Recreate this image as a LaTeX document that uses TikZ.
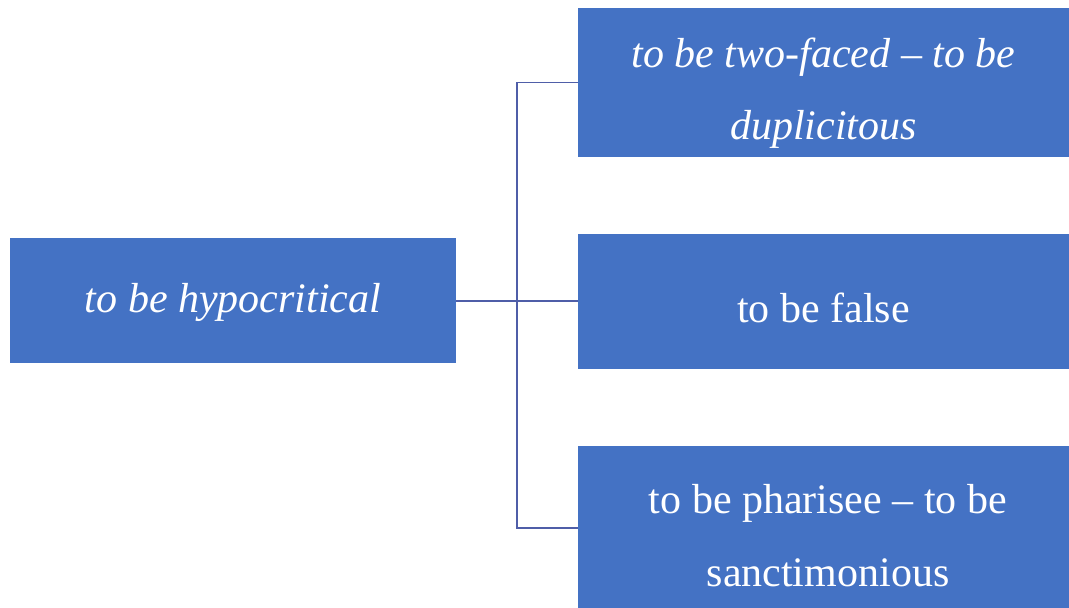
\documentclass[tikz,border=0pt]{standalone}
\usepackage{fontspec}
\setmainfont{Liberation Serif}
\definecolor{boxblue}{HTML}{4472C4}
\definecolor{linkblue}{HTML}{4F5EA8}
\begin{document}
\begin{tikzpicture}[x=1pt,y=1pt,
  box/.style={fill=boxblue,draw=none,inner sep=0pt,minimum width=#1},
  label/.style={text=white,inner sep=0pt,anchor=base,font=\fontsize{42}{50}\selectfont},
  link/.style={draw=linkblue,line width=1.4pt}]
\useasboundingbox (0,0) rectangle (1069,608);
\clip (0,0) rectangle (1069,608);
% boxes
\node[box=446pt,minimum height=125pt] (left) at (233,307.5) {};
\node[box=491pt,minimum height=149pt] (top) at (823.5,525.5) {};
\node[box=491pt,minimum height=135pt] (mid) at (823.5,306.5) {};
\node[box=491pt,minimum height=164pt] (bot) at (823.5,80) {};
% labels
\node[label] (tl) at (233,295) {\itshape to be hypocritical};
\node[label] (t1) at (823.5,540) {\itshape to be two-faced -- to be};
\node[label] (t2) at (823.5,468) {\itshape duplicitous};
\node[label] (m1) at (823.5,285) {to be false};
\node[label] (b1) at (828,94) {to be pharisee -- to be};
\node[label] (b2) at (828,21) {sanctimonious};
% connectors
\coordinate (j) at (517,307);
\draw[link] (left.east |- j) -- (j);
\draw[link] (j) |- (top.west);
\draw[link] (j) -- (mid.west |- j);
\draw[link] (j) |- (bot.west);
\end{tikzpicture}
\end{document}
